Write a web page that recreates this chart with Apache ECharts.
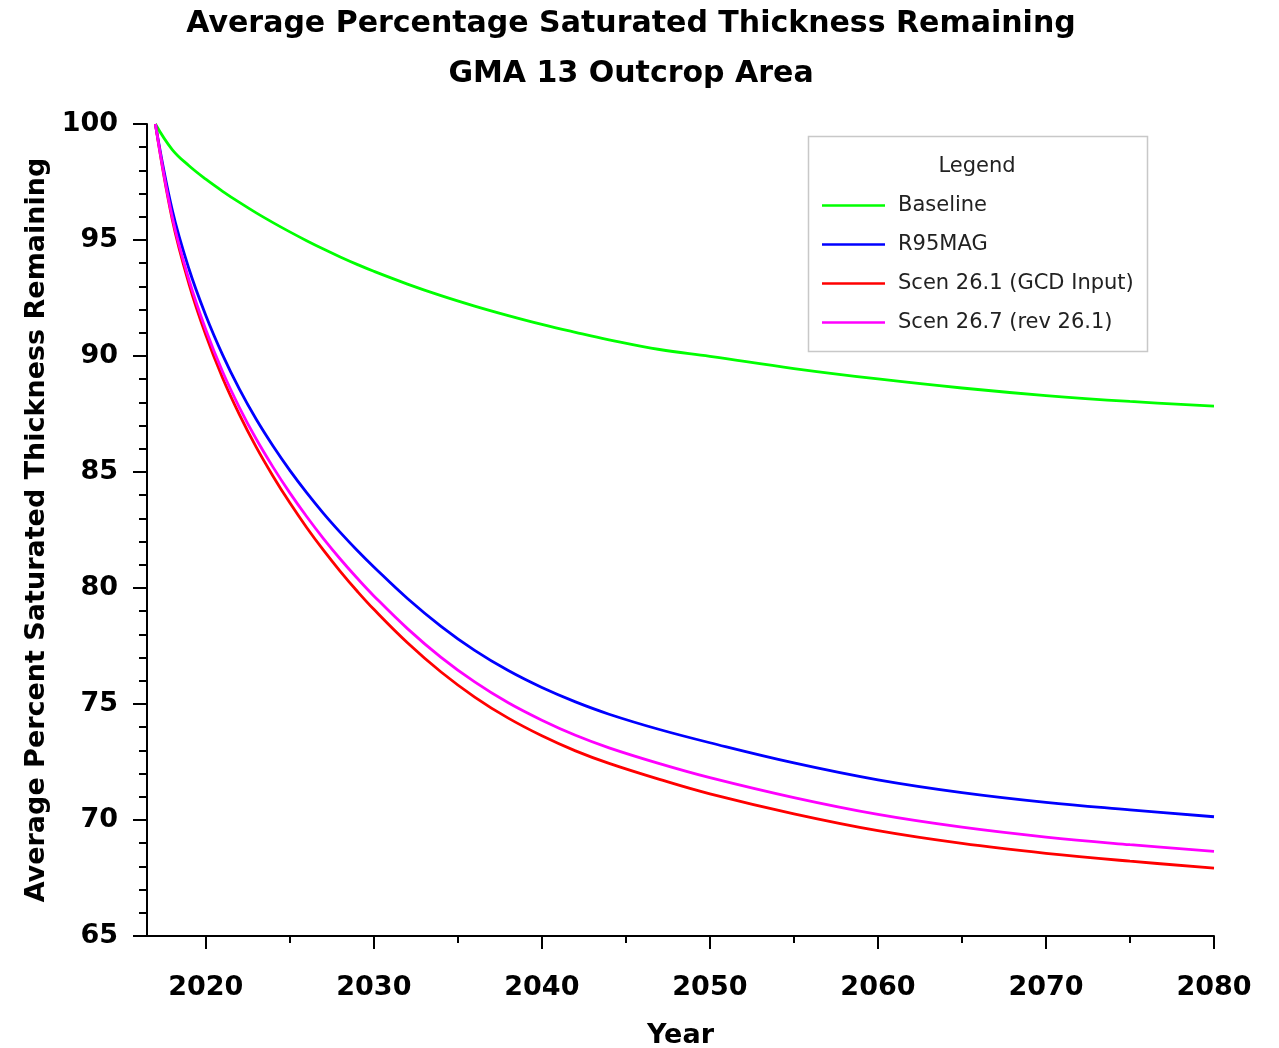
<!DOCTYPE html>
<html>
<head>
<meta charset="utf-8">
<title>Average Percentage Saturated Thickness Remaining</title>
<script src="https://cdn.jsdelivr.net/npm/echarts@6/dist/echarts.min.js"></script>
<style>
  html, body { margin: 0; padding: 0; background: #fff; }
  #chart { width: 1279px; height: 1048px; }
</style>
</head>
<body>
<div id="chart"></div>
<script>
// years
var years = [2017, 2018, 2019, 2020, 2021, 2022, 2023, 2024, 2025, 2026, 2027, 2028, 2029, 2030,
  2032, 2034, 2036, 2038, 2040, 2042, 2044, 2047, 2050, 2055, 2060, 2065, 2070, 2075, 2080];

var baseline = [100, 98.9, 98.2, 97.62, 97.1, 96.62, 96.17, 95.75, 95.35, 94.97, 94.61, 94.27, 93.95, 93.65,
  93.1, 92.6, 92.15, 91.74, 91.36, 91.02, 90.7, 90.28, 89.985, 89.46, 89.01, 88.62, 88.295, 88.04, 87.84];
var r95mag = [100, 96.3, 93.75, 91.75, 90.05, 88.57, 87.27, 86.12, 85.07, 84.11, 83.22, 82.4, 81.63, 80.91,
  79.55, 78.35, 77.31, 76.44, 75.71, 75.09, 74.56, 73.9, 73.33, 72.46, 71.73, 71.18, 70.76, 70.44, 70.14];
var scen261 = [100, 95.9, 93.1, 90.9, 89.05, 87.47, 86.07, 84.82, 83.67, 82.61, 81.63, 80.72, 79.87, 79.08,
  77.64, 76.38, 75.3, 74.39, 73.63, 72.98, 72.44, 71.75, 71.125, 70.265, 69.54, 68.99, 68.565, 68.225, 67.93];
var scen267 = [100, 96.0, 93.28, 91.13, 89.32, 87.78, 86.42, 85.21, 84.1, 83.08, 82.13, 81.25, 80.43, 79.66,
  78.25, 77.01, 75.95, 75.05, 74.3, 73.65, 73.11, 72.43, 71.825, 70.965, 70.24, 69.69, 69.265, 68.935, 68.645];

var seriesNames = ['Baseline', 'R95MAG', 'Scen 26.1 (GCD Input)', 'Scen 26.7 (rev 26.1)'];
var seriesColors = ['#00ff00', '#0000ff', '#ff0000', '#ff00ff'];
var seriesValues = [baseline, r95mag, scen261, scen267];

var majorYears = [2020, 2030, 2040, 2050, 2060, 2070, 2080];
var minorYears = [2025, 2035, 2045, 2055, 2065, 2075];

function pairs(vals) {
  return years.map(function (y, i) { return [y, vals[i]]; });
}

var font = 'DejaVu Sans';
var chart = echarts.init(document.getElementById('chart'));

chart.setOption({
  animation: false,
  backgroundColor: '#fff',
  title: {
    text: 'Average Percentage Saturated Thickness Remaining\nGMA 13 Outcrop Area',
    left: 626,
    textAlign: 'center',
    top: -6,
    textStyle: { fontFamily: font, fontSize: 30, fontWeight: 'bold', color: '#000', lineHeight: 50 }
  },
  grid: { left: 147, right: 65, top: 124, bottom: 112, outerBoundsMode: 'none' },
  graphic: [
    {
      type: 'rect', z: 3,
      shape: { x: 808.5, y: 136.5, width: 339, height: 215 },
      style: { fill: '#fff', stroke: '#c8c8c8', lineWidth: 1.5 }
    },
    {
      type: 'text', z: 4, x: 977, y: 167,
      style: { text: 'Legend', font: '21px "DejaVu Sans"', fill: '#222', align: 'center', verticalAlign: 'middle' }
    }
  ],
  legend: {
    z: 5,
    orient: 'vertical',
    left: 822,
    top: 195,
    padding: 0,
    icon: 'rect',
    itemWidth: 63,
    itemHeight: 2.5,
    itemGap: 18,
    data: seriesNames,
    textStyle: { fontFamily: font, fontSize: 21, color: '#222', lineHeight: 21, padding: [0, 0, 0, 8] }
  },
  xAxis: [
    {
      type: 'value',
      min: 2016.5,
      max: 2080,
      name: 'Year',
      nameLocation: 'middle',
      nameGap: 86,
      nameTextStyle: { fontFamily: font, fontSize: 27, fontWeight: 'bold', color: '#000' },
      axisLine: { show: true, onZero: false, lineStyle: { color: '#000', width: 2 } },
      axisTick: { show: true, length: 13, customValues: majorYears, lineStyle: { color: '#000', width: 2 } },
      axisLabel: {
        customValues: majorYears, margin: 38,
        formatter: function (v) { return String(v); },
        fontFamily: font, fontSize: 27, fontWeight: 'bold', color: '#000'
      },
      splitLine: { show: false }
    },
    {
      type: 'value',
      min: 2016.5,
      max: 2080,
      position: 'bottom',
      axisLine: { show: false },
      axisTick: { show: true, length: 7, customValues: minorYears, lineStyle: { color: '#000', width: 2 } },
      axisLabel: { show: false },
      splitLine: { show: false }
    }
  ],
  yAxis: {
    type: 'value',
    min: 65,
    max: 100,
    interval: 5,
    name: 'Average Percent Saturated Thickness Remaining',
    nameLocation: 'middle',
    nameGap: 96,
    nameTextStyle: { fontFamily: font, fontSize: 27, fontWeight: 'bold', color: '#000' },
    axisLine: { show: true, lineStyle: { color: '#000', width: 2 } },
    axisTick: { show: true, length: 14, lineStyle: { color: '#000', width: 2 } },
    minorTick: { show: true, splitNumber: 5, length: 8, lineStyle: { color: '#000', width: 2 } },
    axisLabel: { margin: 29, fontFamily: font, fontSize: 27, fontWeight: 'bold', color: '#000' },
    splitLine: { show: false },
    minorSplitLine: { show: false }
  },
  series: seriesNames.map(function (name, i) {
    return {
      name: name,
      type: 'line',
      xAxisIndex: 0,
      data: pairs(seriesValues[i]),
      showSymbol: false,
      symbol: 'none',
      smooth: 0.4,
      color: seriesColors[i],
      lineStyle: { color: seriesColors[i], width: 2.8 }
    };
  })
});
</script>
</body>
</html>
